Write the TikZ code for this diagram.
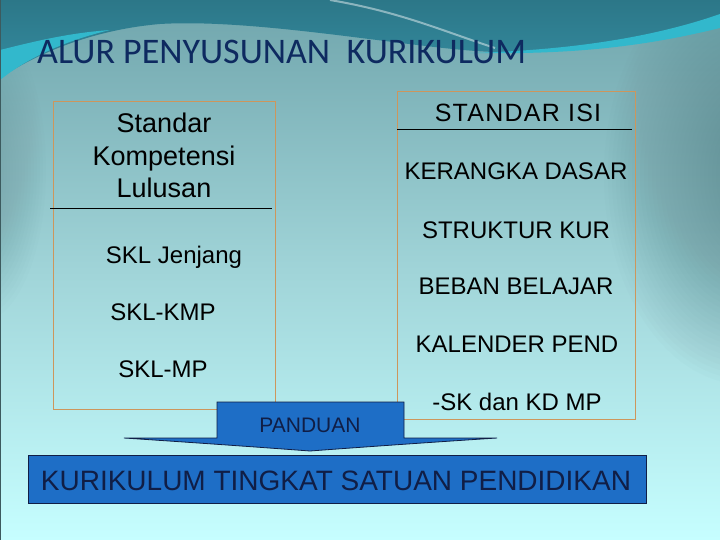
\documentclass[tikz,border=0pt]{standalone}
\usepackage{fontspec}
\setmainfont{Liberation Sans}
\newfontfamily\titlefont{Carlito}
\definecolor{bgtop}{RGB}{112,165,172}
\definecolor{bgmid}{RGB}{160,212,216}
\definecolor{bgbot}{RGB}{198,254,255}
\definecolor{waveteal}{RGB}{52,140,160}
\definecolor{wavecyan}{RGB}{50,184,204}
\definecolor{titleblue}{RGB}{14,42,96}
\definecolor{boxedge}{RGB}{205,150,92}
\definecolor{panblue}{RGB}{30,110,198}
\definecolor{navyedge}{RGB}{16,30,70}
\definecolor{sidegrey}{RGB}{86,128,134}
\tikzset{
  boxframe/.style={draw=boxedge, line width=0.9pt},
  item/.style={anchor=base, inner sep=0pt, font=\fontsize{24}{28}\selectfont, text=black},
  bigitem/.style={anchor=base, inner sep=0pt, font=\fontsize{27}{32}\selectfont, text=black},
}
\begin{document}
\begin{tikzpicture}[x=1pt,y=-1pt]
\useasboundingbox (0,0) rectangle (720,540);
% background
\shade[top color=bgtop, bottom color=bgbot, middle color=bgmid] (0,0) rectangle (720,540);
\begin{scope}
\clip (0,0) rectangle (720,540);
\foreach \i in {0,...,29}
  \fill[sidegrey, opacity=0.025] (745,175) ellipse ({25+4*\i} and {50+5.5*\i});
\foreach \i in {0,...,17}
  \fill[sidegrey, opacity=0.02] (-20,170) ellipse ({15+3*\i} and {50+6*\i});
\end{scope}
% top waves
\shade[top color=waveteal!85!black, bottom color=waveteal] (0,0) -- (720,0) -- (720,20)
  .. controls (650,40) and (570,52) .. (495,52)
  .. controls (420,50) and (260,18) .. (160,24)
  .. controls (90,30) and (35,55) .. (0,78) -- cycle;
\fill[wavecyan] (0,50) .. controls (40,40) and (70,33) .. (110,30)
  .. controls (60,42) and (25,60) .. (0,80) -- cycle;
\fill[wavecyan] (470,53) .. controls (580,50) and (660,35) .. (720,14)
  -- (720,28) .. controls (650,45) and (580,55) .. (470,53) -- cycle;
\draw[white, opacity=0.45, line width=2pt] (330,0) .. controls (400,12) and (440,30) .. (495,48);
\draw[sidegrey!70!black, line width=1pt] (0,0) rectangle (720,540);
% title
\node[anchor=base west, inner sep=0pt, text=titleblue, font=\titlefont\fontsize{36}{40}\selectfont] (title) at (37,64) {ALUR PENYUSUNAN\ \ KURIKULUM};
% left box
\draw[boxframe] (53,101) rectangle (275,409);
\coordinate (la) at (50,208);
\coordinate (lb) at (272,208);
\draw[black, line width=0.8pt] (la) -- (lb);
\node[bigitem] (std) at (164,133) {Standar};
\node[bigitem] (komp) at (164,166) {Kompetensi};
\node[bigitem] (lul) at (164,198) {Lulusan};
\node[item] (skl1) at (174,263) {SKL Jenjang};
\node[item] (skl2) at (163,320) {SKL-KMP};
\node[item] (skl3) at (163,377) {SKL-MP};
% right box
\draw[boxframe] (397,91) rectangle (635,419);
\coordinate (ra) at (397,129);
\coordinate (rb) at (632,129);
\draw[black, line width=0.8pt] (ra) -- (rb);
\node[item, font=\fontsize{25}{28}\selectfont\addfontfeature{LetterSpace=5}] (isi) at (518,122) {STANDAR ISI};
\node[item] (r1) at (516,180) {KERANGKA DASAR};
\node[item] (r2) at (516,238) {STRUKTUR KUR};
\node[item] (r3) at (516,294) {BEBAN BELAJAR};
\node[item] (r4) at (517,352) {KALENDER PEND};
\node[item] (r5) at (517,410) {-SK dan KD MP};
% panduan arrow
\draw[fill=panblue, draw=navyedge, line width=0.8pt, line join=miter]
  (217,402) -- (404,402) -- (404,438) -- (497,438)
  .. controls (420,443) and (350,448) .. (310,451)
  .. controls (270,448) and (200,443) .. (124,438) -- (217,438) -- cycle;
\node[anchor=base, inner sep=0pt, font=\fontsize{21}{24}\selectfont, text=navyedge] (pan) at (310,432) {PANDUAN};
% bottom box
\node[draw=navyedge, fill=panblue, line width=0.9pt, minimum width=618pt, minimum height=48pt, inner sep=0pt, anchor=north west] (ktsp) at (28,455) {};
\node[anchor=base, inner sep=0pt, font=\fontsize{28}{32}\selectfont, text=navyedge] (ktspt) at (336,490) {KURIKULUM TINGKAT SATUAN PENDIDIKAN};
\end{tikzpicture}
\end{document}
